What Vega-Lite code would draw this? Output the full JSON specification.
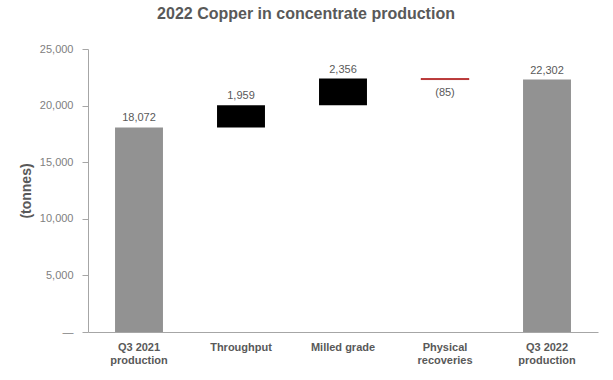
{
  "$schema": "https://vega.github.io/schema/vega-lite/v6.json",
  "autosize": "none",
  "width": 510,
  "height": 283,
  "padding": {"left": 88, "top": 49, "right": 15, "bottom": 48},
  "background": "white",
  "title": {
    "text": "2022 Copper in concentrate production",
    "font": "Liberation Sans",
    "fontSize": 16,
    "fontWeight": "bold",
    "color": "#595959",
    "anchor": "middle",
    "dx": -37,
    "offset": 21
  },
  "config": {
    "view": {"stroke": null},
    "font": "Liberation Sans"
  },
  "data": {
    "values": [
      {"category": "Q3 2021|production", "start": 0, "end": 18072, "label": "18,072", "kind": "total"},
      {"category": "Throughput", "start": 18072, "end": 20031, "label": "1,959", "kind": "increase"},
      {"category": "Milled grade", "start": 20031, "end": 22387, "label": "2,356", "kind": "increase"},
      {"category": "Physical|recoveries", "start": 22387, "end": 22302, "label": "(85)", "kind": "decrease"},
      {"category": "Q3 2022|production", "start": 0, "end": 22302, "label": "22,302", "kind": "total"}
    ]
  },
  "encoding": {
    "x": {
      "field": "category",
      "type": "nominal",
      "sort": null,
      "scale": {"paddingInner": 0.53, "paddingOuter": 0.265},
      "axis": {
        "title": null,
        "labelAngle": 0,
        "labelExpr": "split(datum.value, '|')",
        "labelFont": "Liberation Sans",
        "labelFontSize": 11,
        "labelFontWeight": "bold",
        "labelColor": "#595959",
        "labelPadding": 9,
        "labelLineHeight": 13,
        "labelBaseline": "top",
        "ticks": false,
        "domainColor": "#A6A6A6",
        "domainWidth": 1
      }
    }
  },
  "layer": [
    {
      "mark": {"type": "bar", "strokeWidth": 0.8},
      "encoding": {
        "y": {
          "field": "start",
          "type": "quantitative",
          "scale": {"domain": [0, 25000], "nice": false},
          "axis": {
            "title": "(tonnes)",
            "titleFont": "Liberation Sans",
            "titleFontSize": 14,
            "titleFontWeight": "bold",
            "titleColor": "#595959",
            "titlePadding": 6,
            "values": [0, 5000, 10000, 15000, 20000, 25000],
            "labelExpr": "datum.value == 0 ? '—' : format(datum.value, ',')",
            "labelFont": "Liberation Sans",
            "labelFontSize": 11,
            "labelColor": "#808080",
            "labelPadding": 9,
            "tickSize": 6,
            "tickColor": "#A6A6A6",
            "domainColor": "#A6A6A6",
            "grid": false
          }
        },
        "y2": {"field": "end"},
        "color": {
          "field": "kind",
          "type": "nominal",
          "scale": {"domain": ["total", "increase", "decrease"], "range": ["#929292", "#000000", "#B22222"]},
          "legend": null
        },
        "stroke": {
          "condition": {"test": "datum.kind == 'decrease'", "value": "#B22222"},
          "value": null
        }
      }
    },
    {
      "transform": [{"filter": "datum.kind != 'decrease'"}],
      "mark": {"type": "text", "baseline": "alphabetic", "dy": -6, "fontSize": 11, "color": "#595959", "font": "Liberation Sans"},
      "encoding": {
        "y": {"field": "end", "type": "quantitative"},
        "text": {"field": "label"}
      }
    },
    {
      "transform": [{"filter": "datum.kind == 'decrease'"}],
      "mark": {"type": "text", "baseline": "alphabetic", "dy": 16, "fontSize": 11, "color": "#595959", "font": "Liberation Sans"},
      "encoding": {
        "y": {"field": "end", "type": "quantitative"},
        "text": {"field": "label"}
      }
    }
  ]
}
